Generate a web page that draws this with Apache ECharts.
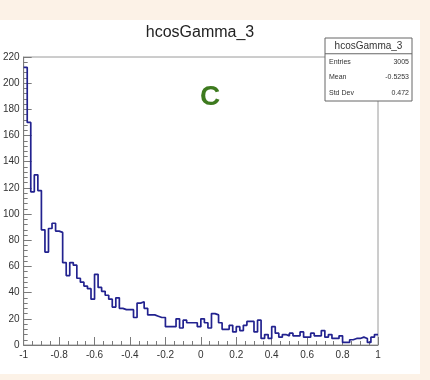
<!DOCTYPE html>
<html>
<head>
<meta charset="utf-8">
<script src="https://cdn.jsdelivr.net/npm/echarts@6/dist/echarts.min.js"></script>
<style>
html,body{margin:0;padding:0;background:#fcf2e7;}
#c{width:430px;height:380px;}
</style>
</head>
<body>
<div id="c"></div>
<script>
// Histogram definition
var histTitle = 'hcosGamma_3';
var binLow = -1, binHigh = 1, nBins = 100;
var counts = [
  212,170,117,130,118,88,71,89,93,87,
  86,63,53,63,61,51,48,45,43,35,
  54,44,41,38,35,29,36,28,27,27,
  27,21,32,33,28,23,23,22,21,21,
  14,14,14,20,13,19,17,17,17,14,
  20,17,13,24,23,17,12,12,15,10,
  14,11,15,18,18,10,19,5,8,5,
  14,9,6,8,7,9,7,7,10,6,
  6,9,7,7,11,6,8,5,5,7,
  2,2,4,5,5,6,5,2,6,8
];
var xTickLabels = ['-1','-0.8','-0.6','-0.4','-0.2','0','0.2','0.4','0.6','0.8','1'];
var yTickLabels = ['0','20','40','60','80','100','120','140','160','180','200','220'];
var statLabels = ['Entries','Mean','Std Dev'];
var statValues = ['3005','-0.5253','0.472'];
var panelLetter = 'C';

var binW = (binHigh - binLow) / nBins;
var stepData = [];
for (var i = 0; i < counts.length; i++) {
  stepData.push([binLow + i * binW, counts[i]]);
}
stepData.push([binHigh, counts[counts.length - 1]]);

var chart = echarts.init(document.getElementById('c'), null, {renderer: 'canvas'});
var F = 'Liberation Sans, Arial, Helvetica, sans-serif';
var gridL = 22, gridR = 52, gridT = 57, gridB = 35;

var boxX = 325, boxY = 38, boxW = 87, boxH = 63, rowH = boxH / 4;
var statGraphics = [
  {type:'rect', shape:{x:boxX, y:boxY, width:boxW, height:boxH}, style:{fill:'#fff', stroke:'#666', lineWidth:1}, z:10},
  {type:'line', shape:{x1:boxX, y1:boxY + rowH, x2:boxX + boxW, y2:boxY + rowH}, style:{stroke:'#666', lineWidth:1}, z:11},
  {type:'text', x:boxX + boxW / 2, y:boxY + rowH / 2, style:{text:histTitle, font:'10px '+F, fill:'#333', textAlign:'center', textVerticalAlign:'middle'}, z:11}
];
for (var s = 0; s < statLabels.length; s++) {
  var cy = boxY + rowH * (s + 1.5);
  statGraphics.push({type:'text', x:boxX + 4, y:cy, style:{text:statLabels[s], font:'7px '+F, fill:'#333', textAlign:'left', textVerticalAlign:'middle'}, z:11});
  statGraphics.push({type:'text', x:boxX + boxW - 3, y:cy, style:{text:statValues[s], font:'7px '+F, fill:'#333', textAlign:'right', textVerticalAlign:'middle'}, z:11});
}

chart.setOption({
  animation: false,
  backgroundColor: 'transparent',
  grid: {left: gridL, right: gridR, top: gridT, bottom: gridB, show: true, borderColor: '#9a9a9a', borderWidth: 1, backgroundColor: '#fff'},
  graphic: [
    {type:'rect', shape:{x:0, y:20, width:420, height:354}, style:{fill:'#ffffff'}, z:-10, silent:true},
    {type:'text', x:200, y:33, style:{text:histTitle, font:'16px '+F, fill:'#222', textAlign:'center', textVerticalAlign:'middle'}},
    {type:'text', x:210, y:97, style:{text:panelLetter, font:'bold 28px '+F, fill:'#3d7a1e', textAlign:'center', textVerticalAlign:'middle'}}
  ].concat(statGraphics),
  xAxis: {
    type: 'value', min: binLow, max: binHigh, interval: 0.2,
    axisLine: {show: true, onZero: false, lineStyle: {color: '#7a7a7a', width: 1}},
    axisTick: {show: true, inside: true, length: 8, lineStyle: {color: '#7a7a7a'}},
    minorTick: {show: true, splitNumber: 4, length: 4, lineStyle: {color: '#7a7a7a'}},
    splitLine: {show: false},
    axisLabel: {
      margin: 5, fontSize: 10, fontFamily: F, color: '#333',
      formatter: function (v) {
        var idx = Math.round((v - binLow) / 0.2);
        return xTickLabels[idx] !== undefined ? xTickLabels[idx] : '';
      }
    }
  },
  yAxis: {
    type: 'value', min: 0, max: 220, interval: 20,
    axisLine: {show: true, onZero: false, lineStyle: {color: '#7a7a7a', width: 1}},
    axisTick: {show: true, inside: true, length: 8, lineStyle: {color: '#7a7a7a'}},
    minorTick: {show: true, splitNumber: 5, length: 4, lineStyle: {color: '#7a7a7a'}},
    splitLine: {show: false},
    axisLabel: {
      margin: 4, fontSize: 10, fontFamily: F, color: '#333',
      formatter: function (v) {
        var idx = Math.round(v / 20);
        return yTickLabels[idx] !== undefined ? yTickLabels[idx] : '';
      }
    }
  },
  series: [{
    type: 'line', step: 'end', data: stepData, symbol: 'none',
    lineStyle: {color: '#22228f', width: 1.7},
    z: 5
  }]
});
</script>
</body>
</html>
